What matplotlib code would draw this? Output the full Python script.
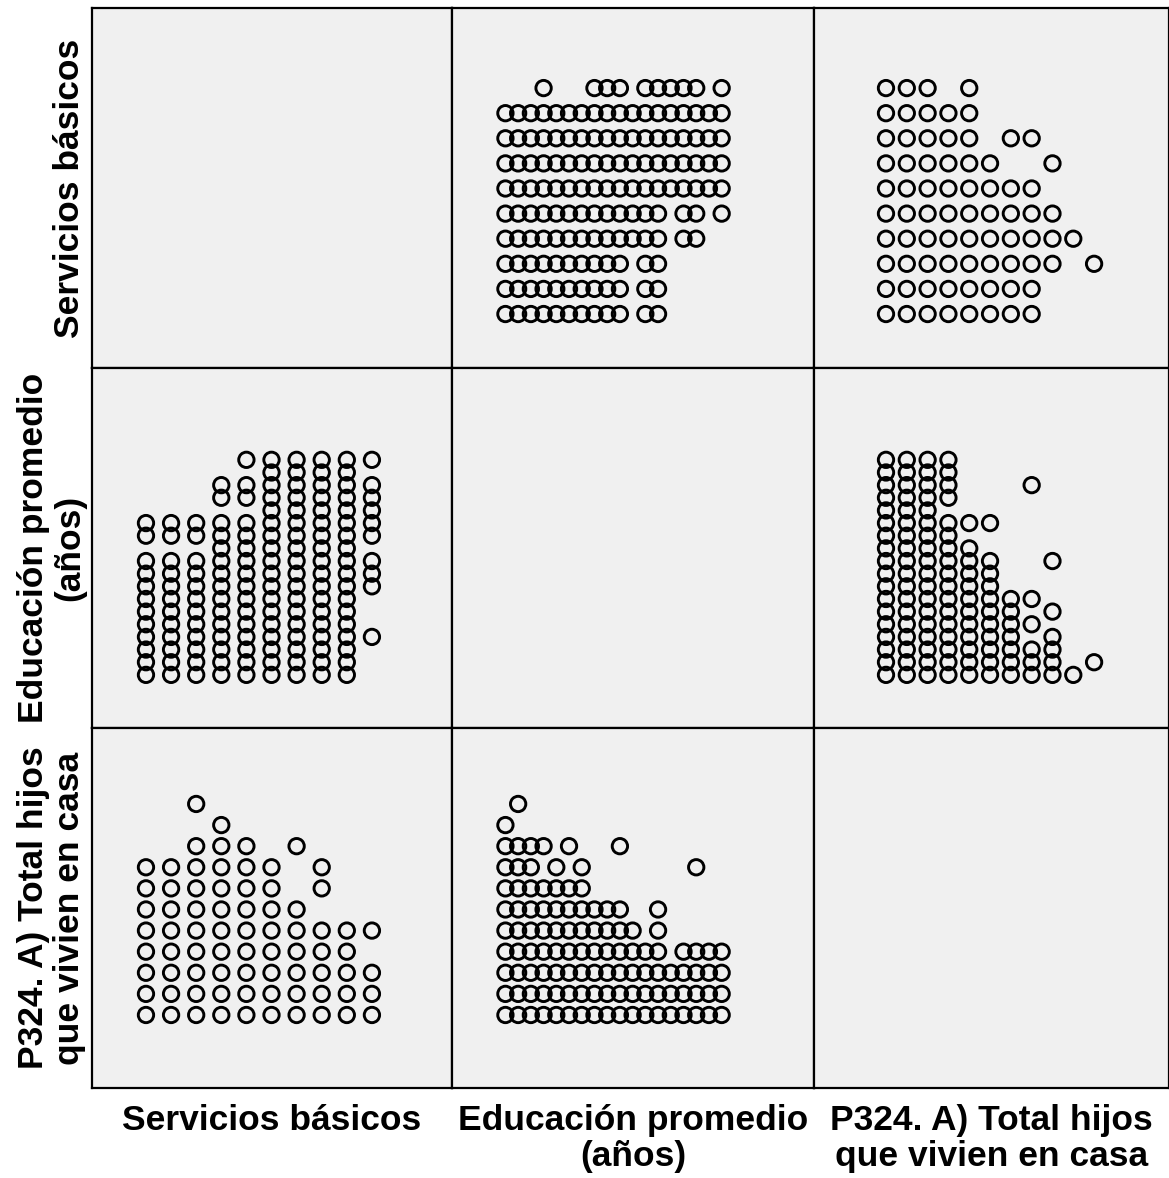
import numpy as np
import matplotlib.pyplot as plt

plt.rcParams['font.family'] = ['Liberation Sans', 'DejaVu Sans']

W, H = 1169, 1178

labels = ['Servicios básicos',
          'Educación promedio\n(años)',
          'P324. A) Total hijos\nque vivien en casa']

serv_levels = [1, 2, 3, 4, 5, 6, 7, 8, 9, 10]
hijos_levels = [0, 1, 2, 3, 4, 5, 6, 7, 8, 9, 10]

# educación (años) values present for each servicios level
edu_by_serv = [
    [0, 1, 2, 3, 4, 5, 6, 7, 8, 9, 11, 12],
    [0, 1, 2, 3, 4, 5, 6, 7, 8, 9, 11, 12],
    [0, 1, 2, 3, 4, 5, 6, 7, 8, 9, 11, 12],
    [0, 1, 2, 3, 4, 5, 6, 7, 8, 9, 10, 11, 12, 14, 15],
    [0, 1, 2, 3, 4, 5, 6, 7, 8, 9, 10, 11, 12, 14, 15, 17],
    [0, 1, 2, 3, 4, 5, 6, 7, 8, 9, 10, 11, 12, 13, 14, 15, 16, 17],
    [0, 1, 2, 3, 4, 5, 6, 7, 8, 9, 10, 11, 12, 13, 14, 15, 16, 17],
    [0, 1, 2, 3, 4, 5, 6, 7, 8, 9, 10, 11, 12, 13, 14, 15, 16, 17],
    [0, 1, 2, 3, 4, 5, 6, 7, 8, 9, 10, 11, 12, 13, 14, 15, 16, 17],
    [3, 7, 8, 9, 11, 12, 13, 14, 15, 17],
]

# total hijos values present for each servicios level
hijos_by_serv = [
    [0, 1, 2, 3, 4, 5, 6, 7],
    [0, 1, 2, 3, 4, 5, 6, 7],
    [0, 1, 2, 3, 4, 5, 6, 7, 8, 10],
    [0, 1, 2, 3, 4, 5, 6, 7, 8, 9],
    [0, 1, 2, 3, 4, 5, 6, 7, 8],
    [0, 1, 2, 3, 4, 5, 6, 7],
    [0, 1, 2, 3, 4, 5, 8],
    [0, 1, 2, 3, 4, 6, 7],
    [0, 1, 2, 3, 4],
    [0, 1, 2, 4],
]

# educación values present for each hijos level
edu_by_hijos = [
    [0, 1, 2, 3, 4, 5, 6, 7, 8, 9, 10, 11, 12, 13, 14, 15, 16, 17],
    [0, 1, 2, 3, 4, 5, 6, 7, 8, 9, 10, 11, 12, 13, 14, 15, 16, 17],
    [0, 1, 2, 3, 4, 5, 6, 7, 8, 9, 10, 11, 12, 13, 14, 15, 16, 17],
    [0, 1, 2, 3, 4, 5, 6, 7, 8, 9, 10, 11, 12, 14, 15, 16, 17],
    [0, 1, 2, 3, 4, 5, 6, 7, 8, 9, 10, 12],
    [0, 1, 2, 3, 4, 5, 6, 7, 8, 9, 12],
    [0, 1, 2, 3, 4, 5, 6],
    [0, 1, 2, 4, 6, 15],
    [0, 1, 2, 3, 5, 9],
    [0],
    [1],
]


def expand(levels, groups):
    a, b = [], []
    for lv, vals in zip(levels, groups):
        for v in vals:
            a.append(lv)
            b.append(v)
    return np.array(a), np.array(b)


s1, e1 = expand(serv_levels, edu_by_serv)
s2, h2 = expand(serv_levels, hijos_by_serv)
h3, e3 = expand(hijos_levels, edu_by_hijos)

# index 0 = servicios, 1 = educación, 2 = hijos
pairs = {
    (0, 1): (s1, e1), (1, 0): (e1, s1),
    (0, 2): (s2, h2), (2, 0): (h2, s2),
    (2, 1): (h3, e3), (1, 2): (e3, h3),
}
lims = [(-1.15, 13.19), (-4.2, 24.26), (-3.46, 13.6)]

xs = [92, 452, 814, 1169]
ys = [8, 368, 728, 1088]

fig = plt.figure(figsize=(W / 100, H / 100), dpi=100)

for r in range(3):
    for c in range(3):
        ax = fig.add_axes([xs[c] / W, 1 - ys[r + 1] / H,
                           (xs[c + 1] - xs[c]) / W, (ys[r + 1] - ys[r]) / H])
        ax.set_facecolor('#f0f0f0')
        if r != c:
            x, y = pairs[(c, r)]
            ax.scatter(x, y, s=122, facecolors='none', edgecolors='black',
                       linewidths=2.1, clip_on=False)
        ax.set_xlim(lims[c])
        ax.set_ylim(lims[r])
        ax.set_xticks([])
        ax.set_yticks([])
        for sp in ax.spines.values():
            sp.set_linewidth(1.6)

for i in range(3):
    cx = (xs[i] + xs[i + 1]) / 2
    fig.text(cx / W, 1 - 1104 / H, labels[i], ha='center', va='top',
             fontsize=25.5, fontweight='bold', linespacing=1.12,
             multialignment='center')
    cy = (ys[i] + ys[i + 1]) / 2
    fig.text(86 / W, 1 - cy / H, labels[i], ha='right', va='center',
             rotation=90, fontsize=25.5, fontweight='bold', linespacing=1.12,
             multialignment='center')

fig.savefig('out.png', dpi=100)
